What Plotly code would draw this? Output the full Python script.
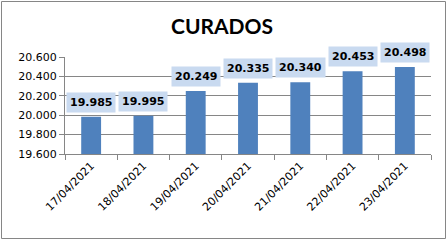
import plotly.graph_objects as go

dates = ["17/04/2021", "18/04/2021", "19/04/2021", "20/04/2021",
         "21/04/2021", "22/04/2021", "23/04/2021"]
values = [19.985, 19.995, 20.249, 20.335, 20.340, 20.453, 20.498]
yticks = [19.6, 19.8, 20.0, 20.2, 20.4, 20.6]
ytick_labels = ["19.600", "19.800", "20.000", "20.200", "20.400", "20.600"]
title = "CURADOS"

W, H = 447, 241
ml, mr, mt, mb = 65, 16, 57, 87
pw, ph = W - ml - mr, H - mt - mb

fig = go.Figure()
fig.add_trace(go.Bar(x=dates, y=values, marker=dict(color="#4F81BD", line=dict(width=0)),
                     width=0.38, hoverinfo="skip"))

for d, v in zip(dates, values):
    fig.add_annotation(x=d, y=v, xref="x", yref="y", yanchor="bottom", yshift=4,
                       text="%.3f" % v, showarrow=False,
                       font=dict(family="DejaVu Sans", size=11, color="#000000", weight="bold"),
                       bgcolor="#c9daf0", borderpad=3)

# outer border
fig.add_shape(type="rect", xref="paper", yref="paper",
              x0=(1.5 - ml) / pw, x1=(445.5 - ml) / pw,
              y0=(H - mb - 238.5) / ph, y1=(H - mb - 1.5) / ph,
              line=dict(color="#868686", width=1), fillcolor="rgba(0,0,0,0)", layer="below")

fig.update_layout(
    width=W, height=H,
    margin=dict(l=ml, r=mr, t=mt, b=mb),
    paper_bgcolor="white", plot_bgcolor="white",
    showlegend=False,
    title=dict(text="<b>" + title + "</b>", x=(222 - 0) / W, xref="paper", xanchor="center",
               y=1 - 27 / H, yanchor="middle", yref="container",
               font=dict(family="Lato", size=21, color="#000000")),
    xaxis=dict(showline=True, linecolor="#868686", linewidth=1,
               ticks="outside", tickson="boundaries", ticklen=5, tickcolor="#868686",
               tickangle=-45, tickfont=dict(family="DejaVu Sans", size=11, color="#000000"),
               showgrid=False),
    yaxis=dict(range=[19.6, 20.6], tickvals=yticks, ticktext=ytick_labels,
               showline=True, linecolor="#868686", linewidth=1,
               ticks="outside", ticklen=5, tickcolor="#868686",
               showgrid=True, gridcolor="#868686", gridwidth=1,
               tickfont=dict(family="DejaVu Sans", size=11, color="#000000"),
               zeroline=False),
)
fig.layout.title.x = 222 / W
fig.layout.title.xref = "container"

fig.write_html("out.html")
